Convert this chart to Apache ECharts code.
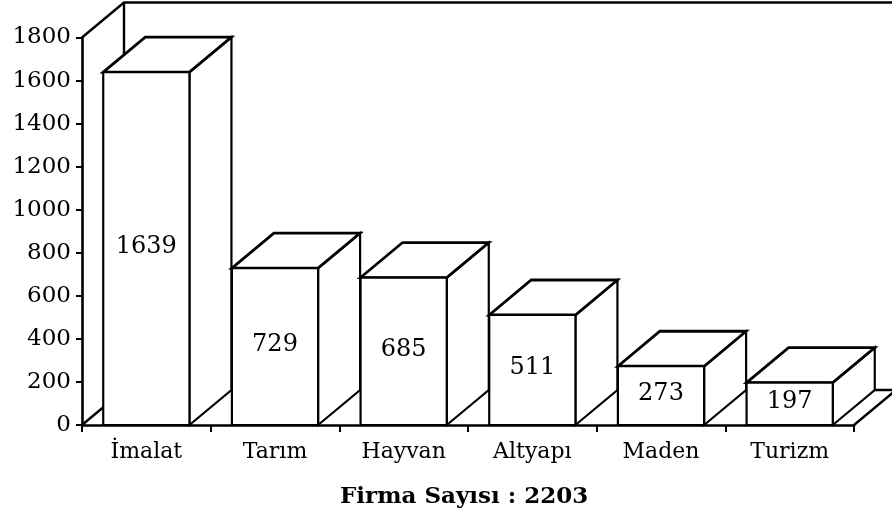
<!DOCTYPE html>
<html>
<head>
<meta charset="utf-8">
<script src="https://cdn.jsdelivr.net/npm/echarts@6/dist/echarts.min.js"></script>
<style>
  html, body { margin: 0; padding: 0; background: #fff; }
  #chart { width: 892px; height: 524px; }
</style>
</head>
<body>
<div id="chart"></div>
<script>
// Firm counts by sector
const categories = ['İmalat', 'Tarım', 'Hayvan', 'Altyapı', 'Maden', 'Turizm'];
const firmCounts = [1639, 729, 685, 511, 273, 197];
const yMin = 0;
const yMax = 1800;
const yStep = 200;
const totalLabel = 'Firma Sayısı : 2203';

// Oblique depth of the pseudo-3D boxes and frame (pixels)
const DX = 42;
const DY = -35;
const INK = '#000';
const SERIF = '"DejaVu Serif", serif';

// Left wall, back wall and floor drawn from the grid rectangle
function renderFrame(params, api) {
  const cs = params.coordSys;
  const x0 = cs.x, x1 = cs.x + cs.width;
  const yt = cs.y, yb = cs.y + cs.height;
  const st = { stroke: INK, lineWidth: 2.4, fill: null, lineJoin: 'miter' };
  const line = pts => ({ type: 'polyline', shape: { points: pts }, style: st, silent: true });
  return {
    type: 'group',
    children: [
      line([[x0, yt], [x0 + DX, yt + DY], [x1 + DX + 10, yt + DY]]),
      line([[x0 + DX, yt + DY], [x0 + DX, yb + DY]]),
      line([[x0, yb], [x0 + DX, yb + DY], [x1 + DX, yb + DY], [x1, yb]])
    ]
  };
}

// One box per sector: front, top and right side faces plus value label
function renderBox(params, api) {
  const idx = api.value(0);
  const v = api.value(1);
  const base = api.coord([idx, 0]);
  const top = api.coord([idx, v]);
  const w = api.size([1, 0])[0] * 0.67;
  const l = base[0] - w / 2, r = base[0] + w / 2;
  const b = base[1], t = top[1];
  const face = { fill: '#fff', stroke: INK, lineWidth: 2.2, lineJoin: 'miter' };
  return {
    type: 'group',
    children: [
      { type: 'polygon', shape: { points: [[r, b], [r + DX, b + DY], [r + DX, t + DY], [r, t]] }, style: face },
      { type: 'polygon', shape: { points: [[l, t], [r, t], [r + DX, t + DY], [l + DX, t + DY]] },
        style: Object.assign({}, face, { lineWidth: 2.8 }) },
      { type: 'polygon', shape: { points: [[l, b], [r, b], [r, t], [l, t]] }, style: face },
      { type: 'text', x: base[0], y: (t + b) / 2 - 2,
        style: { text: String(v), fill: INK, font: '24px ' + SERIF, align: 'center', verticalAlign: 'middle' } }
    ]
  };
}

const chart = echarts.init(document.getElementById('chart'), null, { renderer: 'canvas' });
chart.setOption({
  backgroundColor: '#fff',
  animation: false,
  title: {
    text: totalLabel,
    left: 340,
    top: 486,
    padding: 0,
    textStyle: { fontFamily: SERIF, fontSize: 23, fontWeight: 'bold', color: INK }
  },
  grid: { left: 82, right: 38, top: 37.5, bottom: 99, containLabel: false, outerBoundsMode: 'none' },
  xAxis: {
    type: 'category',
    data: categories,
    boundaryGap: true,
    z: 10,
    axisLine: { show: true, lineStyle: { color: INK, width: 2.6 } },
    axisTick: { show: true, length: 7, alignWithLabel: false, lineStyle: { color: INK, width: 2 } },
    axisLabel: { fontFamily: SERIF, fontSize: 22, color: INK, margin: 16 },
    splitLine: { show: false }
  },
  yAxis: {
    type: 'value',
    min: yMin,
    max: yMax,
    interval: yStep,
    z: 10,
    axisLine: { show: true, lineStyle: { color: INK, width: 2.6 } },
    axisTick: { show: true, length: 6, inside: false, lineStyle: { color: INK, width: 2 } },
    axisLabel: { fontFamily: SERIF, fontSize: 23, color: INK, margin: 11, formatter: v => String(v) },
    splitLine: { show: false }
  },
  series: [
    {
      type: 'custom',
      z: 1,
      silent: true,
      renderItem: renderFrame,
      data: [[0, 0]],
      encode: { x: 0, y: 1 }
    },
    {
      type: 'custom',
      z: 2,
      renderItem: renderBox,
      data: categories.map((c, i) => [i, firmCounts[i]]),
      encode: { x: 0, y: 1 }
    }
  ]
});
</script>
</body>
</html>
